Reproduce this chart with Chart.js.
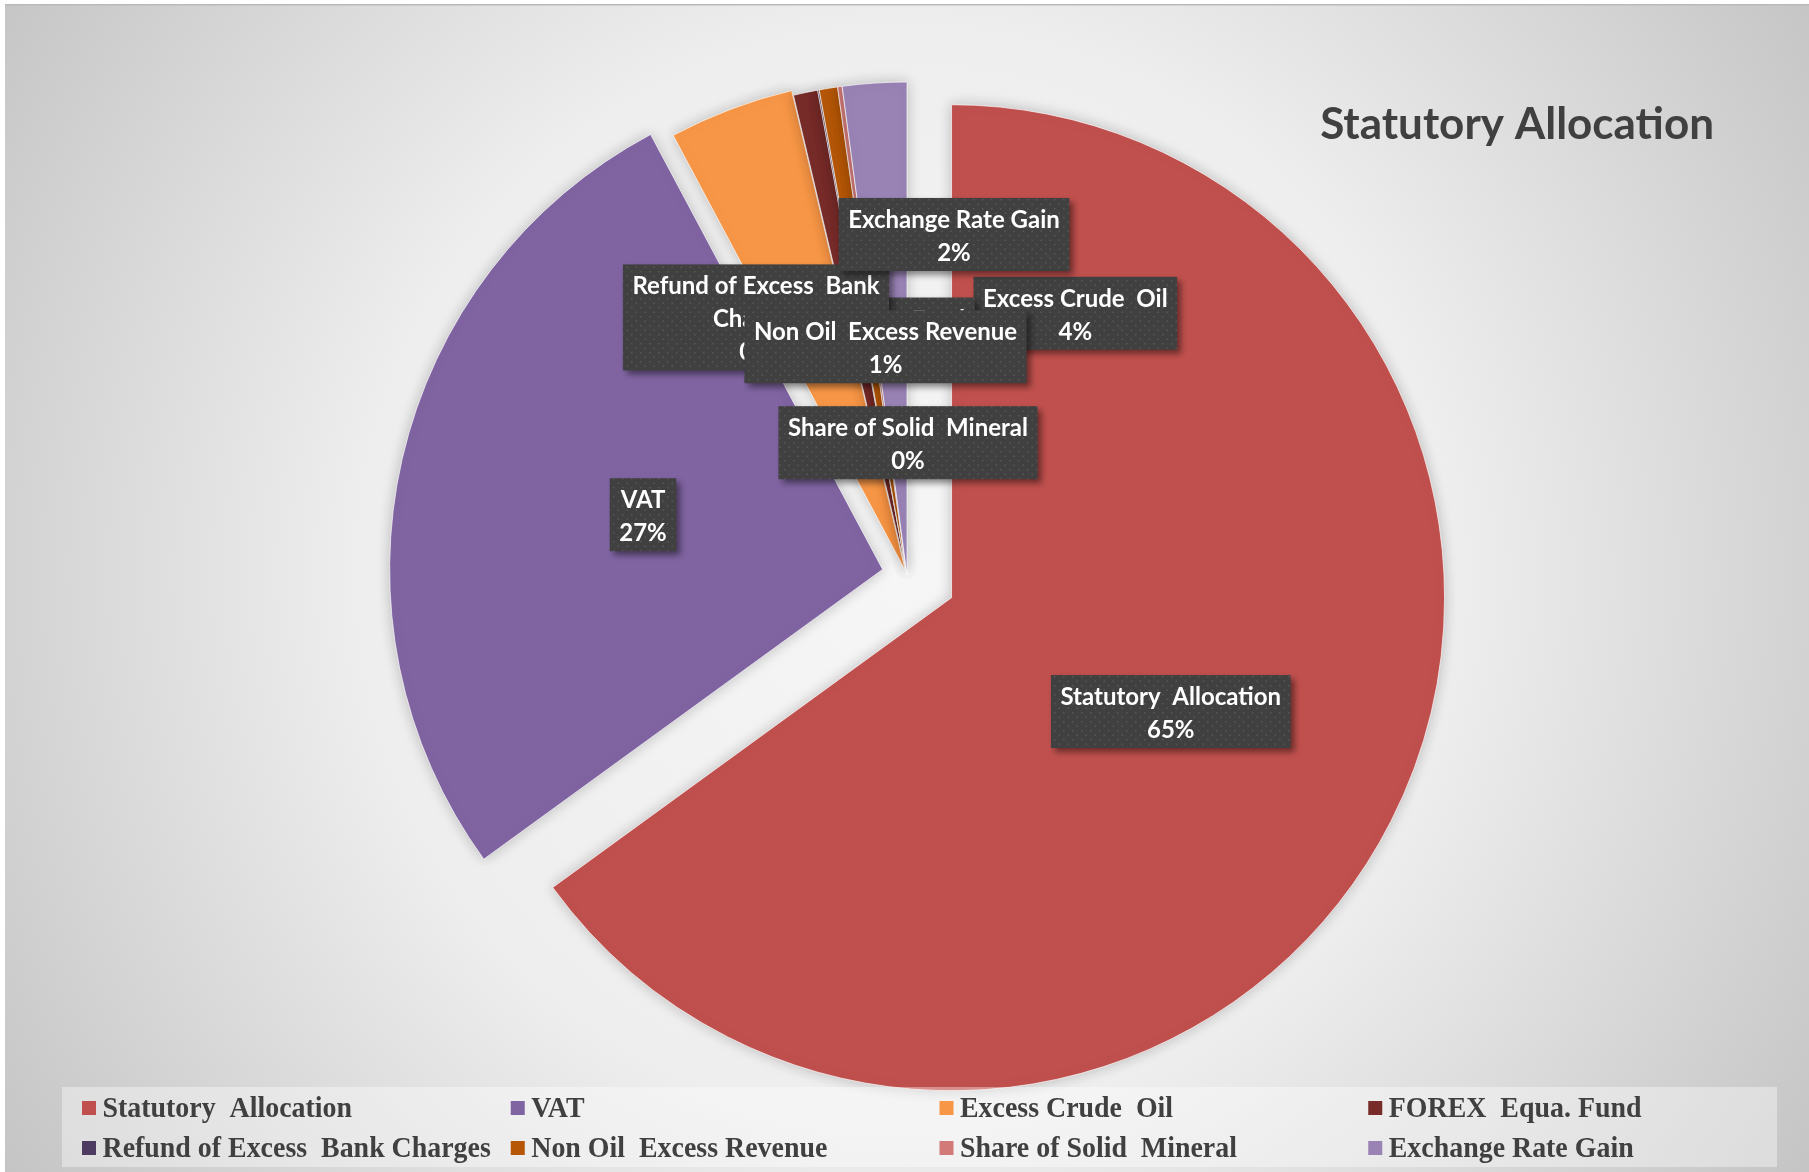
<!DOCTYPE html>
<html>
<head>
<meta charset="utf-8">
<script src="https://cdn.jsdelivr.net/npm/chart.js@4.4.0/dist/chart.umd.min.js"></script>
<style>
  html, body { margin: 0; padding: 0; background: #fff; }
  #wrap { width: 1809px; height: 1172px; }
</style>
</head>
<body>
<div id="wrap"><canvas id="pie" width="1809" height="1172"></canvas></div>
<script>
const categories = ['Statutory  Allocation', 'VAT', 'Excess Crude  Oil', 'FOREX  Equa. Fund',
  'Refund of Excess  Bank Charges', 'Non Oil  Excess Revenue', 'Share of Solid  Mineral', 'Exchange Rate Gain'];
const shares = [65.0, 27.2, 4.1, 0.8, 0.05, 0.6, 0.15, 2.1];
const colors = ['#C0504D', '#8064A2', '#F79646', '#772C2A', '#4D3B62', '#B65708', '#D27A78', '#9983B5'];
const explode = [50, 25, 5, 0, 0, 0, 0, 0];
const chartTitle = 'Statutory Allocation';

// data label box centres, relative to pie centre in radius units
const labelDX = [0.535, -0.5355, 0.3414, -0.0923, -0.3063, -0.0436, 0.002, 0.0953];
const labelDY = [0.277, -0.1223, -0.5308, -0.4888, -0.5225, -0.4631, -0.2684, -0.6907];

// pie where slices are pulled out by a plain shift along their middle angle (like Excel)
const BasePie = Chart.registry.getController('pie');
class ExplodedPieController extends BasePie {
  draw() {
    const ctx = this._ctx;
    const area = this.chart.chartArea;
    const dist = this.getDataset().explode || [];
    this._cachedMeta.data.forEach((arc, i) => {
      if (arc.hidden) return;
      const mid = (arc.startAngle + arc.endAngle) / 2;
      const d = dist[i] || 0;
      ctx.save();
      ctx.translate(Math.cos(mid) * d, Math.sin(mid) * d);
      arc.draw(ctx, area);
      ctx.restore();
    });
  }
}
ExplodedPieController.id = 'explodedPie';
ExplodedPieController.defaults = BasePie.defaults;
ExplodedPieController.overrides = BasePie.overrides;
Chart.register(ExplodedPieController);

// dotted dark fill for the label boxes
function makePattern(ctx) {
  const c = document.createElement('canvas');
  c.width = 9; c.height = 9;
  const p = c.getContext('2d');
  p.fillStyle = '#404040';
  p.fillRect(0, 0, 9, 9);
  p.fillStyle = '#575757';
  p.fillRect(1, 1, 1.5, 1.5);
  p.fillRect(5.5, 5.5, 1.5, 1.5);
  return ctx.createPattern(c, 'repeat');
}

function wrapText(ctx, text, maxW) {
  if (ctx.measureText(text).width <= maxW) return [text];
  const words = text.split(' ');
  const lines = [];
  let cur = '';
  words.forEach(w => {
    const test = cur === '' ? w : cur + ' ' + w;
    if (ctx.measureText(test).width > maxW && cur.trim() !== '') {
      lines.push(cur.trim());
      cur = w;
    } else cur = test;
  });
  if (cur.trim() !== '') lines.push(cur.trim());
  return lines;
}

const backgroundPlugin = {
  id: 'bg',
  beforeDraw(chart) {
    const {ctx, width, height} = chart;
    ctx.save();
    ctx.fillStyle = '#ffffff';
    ctx.fillRect(0, 0, width, height);
    const g = ctx.createRadialGradient(905, 575, 0, 905, 575, 1090);
    g.addColorStop(0, '#f6f6f6');
    g.addColorStop(0.5, '#eeeeee');
    g.addColorStop(1, '#c4c4c4');
    ctx.fillStyle = g;
    ctx.fillRect(5, 4, width - 5, height - 4);
    ctx.fillStyle = '#b9b9b9';
    ctx.fillRect(5, 4, width - 5, 1.5);
    ctx.restore();
  },
  beforeDatasetsDraw(chart) {
    const ctx = chart.ctx;
    ctx.save();
    ctx.shadowColor = 'rgba(0,0,0,0.22)';
    ctx.shadowBlur = 14;
  },
  afterDatasetsDraw(chart) {
    chart.ctx.restore();
  }
};

const labelPlugin = {
  id: 'boxLabels',
  afterDatasetsDraw(chart) {
    const ctx = chart.ctx;
    const meta = chart.getDatasetMeta(0);
    const data = chart.data.datasets[0].data;
    const total = data.reduce((a, b) => a + b, 0);
    const pattern = makePattern(ctx);
    ctx.save();
    ctx.font = 'bold 24px Lato';
    meta.data.forEach((arc, i) => {
      const cx = arc.x + labelDX[i] * arc.outerRadius;
      const cy = arc.y + labelDY[i] * arc.outerRadius;
      const lines = wrapText(ctx, chart.data.labels[i], 300);
      lines.push(Math.round(data[i] / total * 100) + '%');
      const w = Math.max(...lines.map(l => ctx.measureText(l).width)) + 19;
      const h = 7 + lines.length * 33;
      const x = cx - w / 2, y = cy - h / 2;
      ctx.save();
      ctx.shadowColor = 'rgba(0,0,0,0.45)';
      ctx.shadowBlur = 6;
      ctx.shadowOffsetX = 4;
      ctx.shadowOffsetY = 4;
      ctx.fillStyle = pattern;
      ctx.fillRect(x, y, w, h);
      ctx.restore();
      ctx.fillStyle = '#ffffff';
      ctx.textAlign = 'center';
      ctx.textBaseline = 'alphabetic';
      lines.forEach((l, k) => ctx.fillText(l, cx, y + 30 + k * 33));
    });
    ctx.restore();
  }
};

const titleLegendPlugin = {
  id: 'titleLegend',
  afterDraw(chart) {
    const ctx = chart.ctx;
    ctx.save();
    // title
    ctx.font = 'bold 44px Lato';
    ctx.fillStyle = '#404040';
    ctx.textAlign = 'right';
    ctx.textBaseline = 'alphabetic';
    ctx.fillText(chartTitle, 1714, 139);

    // legend box, 4 columns x 2 rows
    const left = 62, right = 1777, top = 1087, bottom = 1167;
    ctx.fillStyle = 'rgba(255,255,255,0.38)';
    ctx.fillRect(left, top, right - left, bottom - top);
    const colW = (right - left) / 4;
    ctx.font = 'bold 30px "Liberation Serif"';
    ctx.textAlign = 'left';
    chart.data.labels.forEach((name, i) => {
      const col = i % 4, row = Math.floor(i / 4);
      const sx = left + 20 + col * colW;
      const base = 1117 + row * 40;
      ctx.fillStyle = colors[i];
      ctx.fillRect(sx, base - 16, 14, 14);
      ctx.fillStyle = '#404040';
      ctx.save();
      ctx.translate(sx + 20.5, base);
      ctx.scale(0.93, 1);
      ctx.fillText(name, 0, 0);
      ctx.restore();
    });
    ctx.restore();
  }
};

new Chart(document.getElementById('pie'), {
  type: 'explodedPie',
  data: {
    labels: categories,
    datasets: [{
      data: shares,
      explode: explode,
      backgroundColor: colors,
      borderColor: 'rgba(255,255,255,0.85)',
      borderWidth: 0.8,
      hoverOffset: 0
    }]
  },
  options: {
    responsive: false,
    animation: false,
    radius: 493,
    clip: false,
    layout: { padding: { left: 5, right: 0, top: 0, bottom: 22 } },
    plugins: {
      legend: { display: false },
      title: { display: false },
      tooltip: { enabled: false }
    }
  },
  plugins: [backgroundPlugin, labelPlugin, titleLegendPlugin]
});
</script>
</body>
</html>
